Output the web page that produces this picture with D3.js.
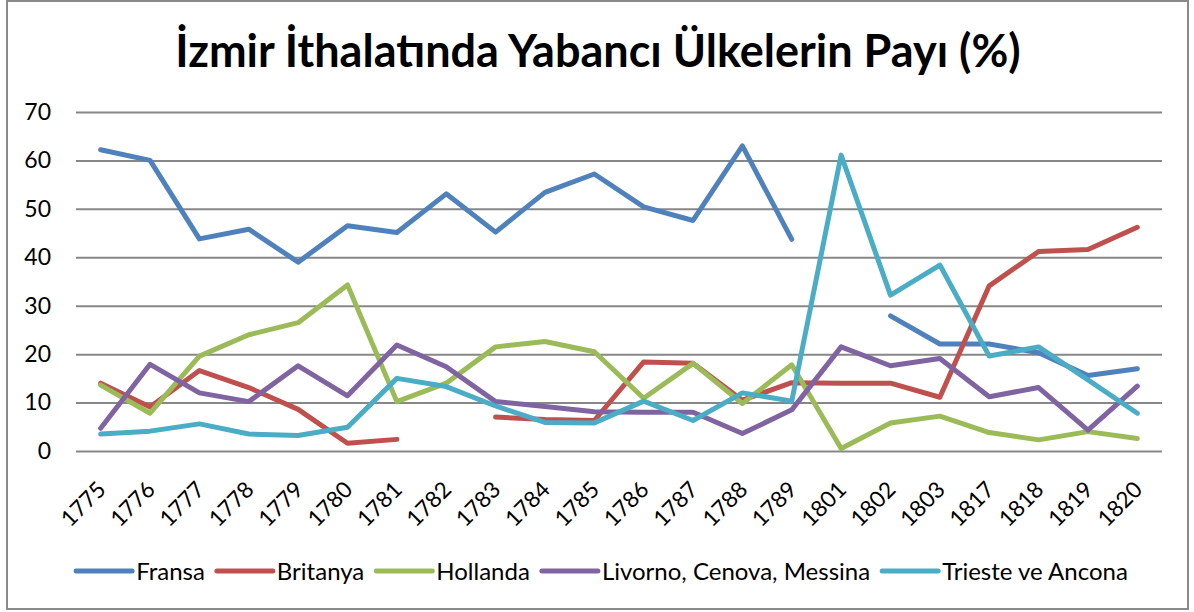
<!DOCTYPE html>
<html><head><meta charset="utf-8">
<script src="https://cdn.jsdelivr.net/npm/d3@7"></script>
<style>html,body{margin:0;padding:0;background:#fff;} svg{display:block;}</style>
</head><body>
<svg id="c" width="1194" height="612"></svg>
<script>
const title = "İzmir İthalatında Yabancı Ülkelerin Payı (%)";
const categories = ["1775","1776","1777","1778","1779","1780","1781","1782","1783","1784","1785","1786","1787","1788","1789","1801","1802","1803","1817","1818","1819","1820"];
const yTicks = [0,10,20,30,40,50,60,70];
const seriesNames = ["Fransa","Britanya","Hollanda","Livorno, Cenova, Messina","Trieste ve Ancona"];
const seriesColors = ["#4F81BD","#C0504D","#9BBB59","#8064A2","#4BACC6"];
const fransa   = [62.2,60.0,43.8,45.8,39.0,46.5,45.1,53.1,45.2,53.4,57.2,50.4,47.6,63.0,43.7,null,27.9,22.1,22.1,20.3,15.6,17.0];
const britanya = [14.0,9.1,16.6,13.1,8.6,1.6,2.4,null,7.0,6.5,6.3,18.4,18.1,10.5,14.1,14.0,14.0,11.1,34.1,41.2,41.6,46.2];
const hollanda = [13.6,7.8,19.6,24.0,26.5,34.3,10.2,14.0,21.5,22.6,20.5,10.9,18.1,9.8,17.8,0.5,5.8,7.2,3.8,2.3,4.0,2.6];
const livorno  = [4.7,17.9,12.0,10.2,17.6,11.4,21.9,17.4,10.2,9.2,8.1,8.0,8.0,3.6,8.5,21.5,17.6,19.1,11.2,13.1,4.3,13.4];
const trieste  = [3.5,4.1,5.6,3.5,3.2,4.9,15.0,13.3,9.3,5.9,5.8,10.3,6.3,12.0,10.3,61.1,32.2,38.4,19.6,21.5,14.7,7.8];
const seriesValues = [fransa, britanya, hollanda, livorno, trieste];

const svg = d3.select("#c");
const FONT = "Lato, 'Open Sans', sans-serif";
const plot = {left: 76, right: 1162, top: 112, bottom: 451};

svg.append("rect").attr("x",7).attr("y",1).attr("width",1181).attr("height",608)
  .attr("fill","#fff").attr("stroke","#8a8a8a").attr("stroke-width",2);

svg.append("text").attr("x", 598).attr("y", 67).attr("text-anchor","middle")
  .attr("font-family", FONT).attr("font-weight","bold").attr("font-size", 45)
  .attr("fill","#000").text(title);

const x = d3.scalePoint().domain(categories).range([plot.left, plot.right]).padding(0.5);
const y = d3.scaleLinear().domain([0,70]).range([plot.bottom, plot.top]);

// gridlines + y labels
const yAxis = d3.axisLeft(y).tickValues(yTicks).tickSize(-(plot.right-plot.left)).tickPadding(25);
const gy = svg.append("g").attr("transform", `translate(${plot.left},0)`).call(yAxis);
gy.select(".domain").remove();
gy.selectAll(".tick line").attr("stroke","#878787").attr("stroke-width",2);
gy.selectAll(".tick text").attr("font-family",FONT).attr("font-size",23).attr("fill","#000").attr("x",-25);

// x labels
const xAxis = d3.axisBottom(x).tickSize(0).tickPadding(0);
const gx = svg.append("g").attr("transform", `translate(0,${plot.bottom})`).call(xAxis);
gx.select(".domain").remove();
gx.selectAll(".tick text")
  .attr("font-family",FONT).attr("font-size",22.5).attr("fill","#000")
  .attr("text-anchor","end").attr("dy",0).attr("y",0)
  .attr("transform","translate(6,40) rotate(-45)");

// lines
const line = d3.line().defined(d => d.v !== null).x(d => x(d.c)).y(d => y(d.v));
seriesValues.forEach((vals, i) => {
  const data = categories.map((c, j) => ({c, v: vals[j]}));
  svg.append("path").datum(data).attr("d", line)
    .attr("fill","none").attr("stroke", seriesColors[i]).attr("stroke-width",5)
    .attr("stroke-linejoin","round").attr("stroke-linecap","round");
});

// legend
const lg = svg.append("g");
let cx = 0;
seriesNames.forEach((n, i) => {
  const g = lg.append("g").attr("transform", `translate(${cx},0)`);
  g.append("line").attr("x1",0).attr("x2",56).attr("y1",0).attr("y2",0)
    .attr("stroke", seriesColors[i]).attr("stroke-width",5).attr("stroke-linecap","round");
  const t = g.append("text").attr("x",60).attr("y",8.5).attr("font-family",FONT).attr("font-size",24)
    .attr("fill","#000").text(n);
  const w = t.node().getComputedTextLength();
  cx += 60 + w + 12;
});
const totalW = cx - 12;
lg.attr("transform", `translate(${602 - totalW/2},571)`);
</script>
</body></html>
